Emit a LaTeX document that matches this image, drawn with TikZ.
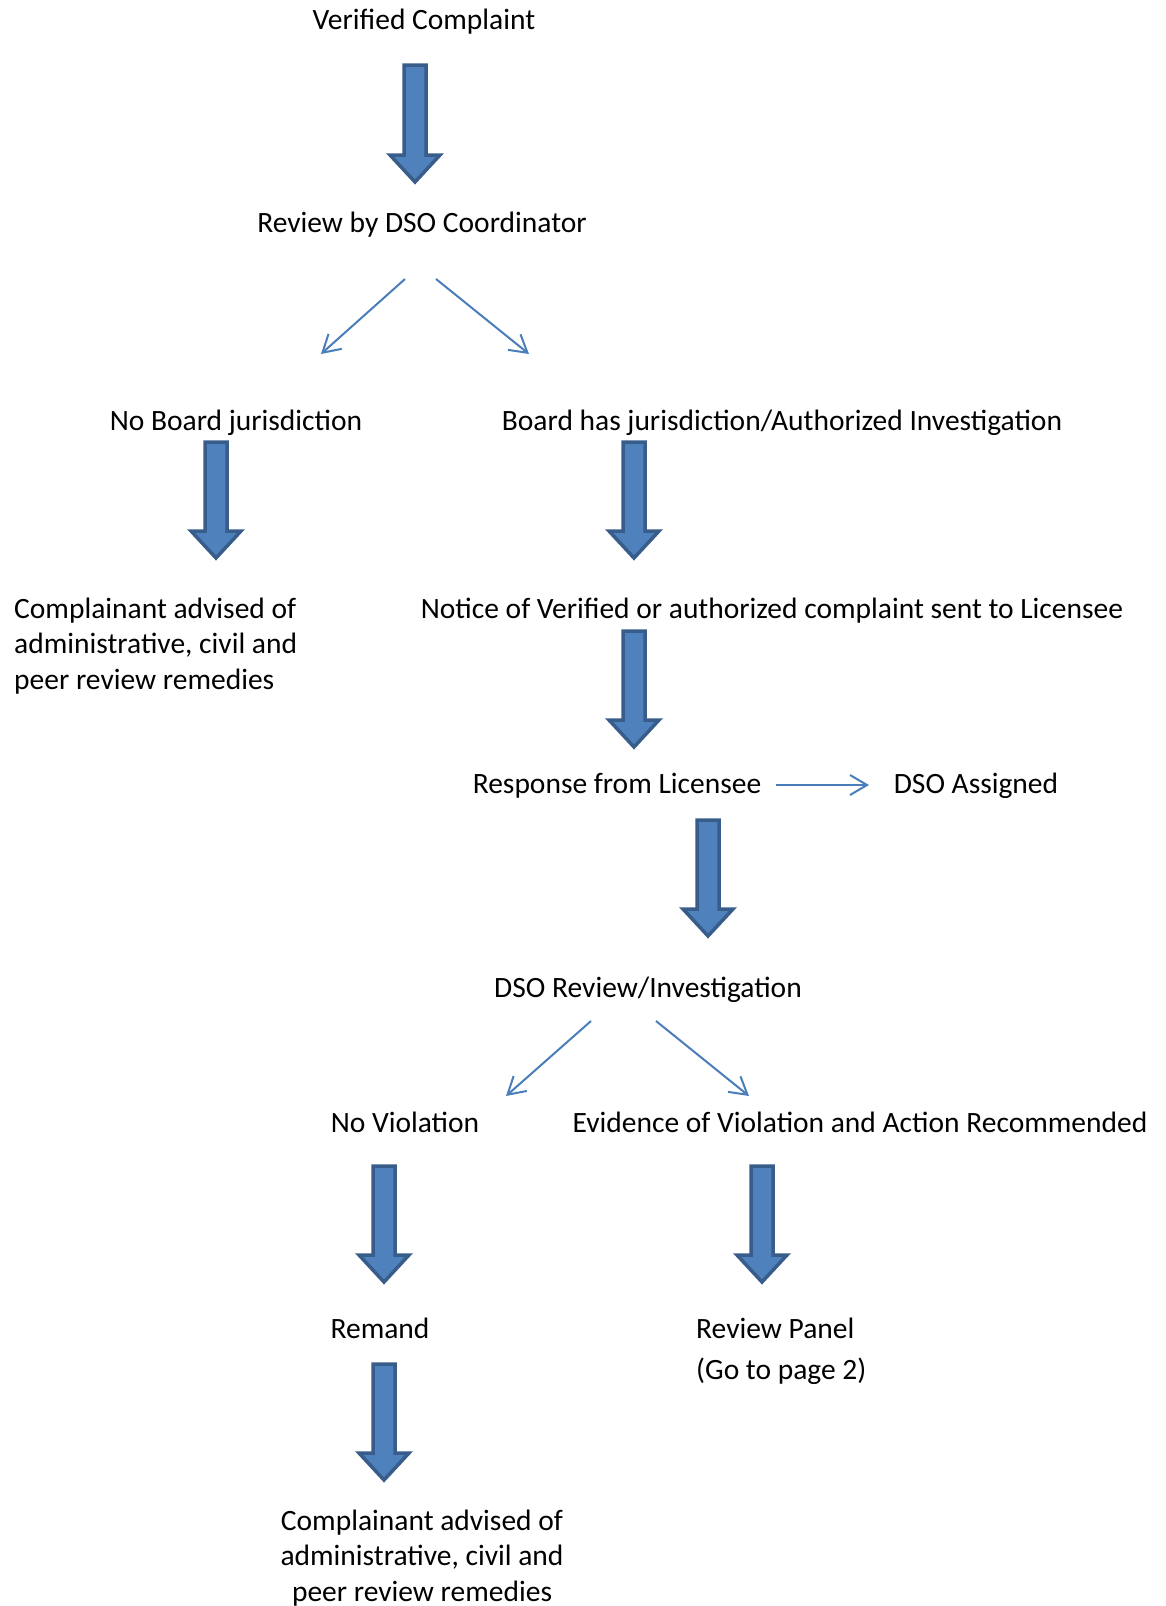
\documentclass[tikz,border=0pt]{standalone}
\usepackage{fontspec}
\setmainfont{Carlito}
\usepackage{tikz}
\usetikzlibrary{arrows.meta,%
		calc,%
		positioning}

\definecolor{fatfill}{HTML}{4F81BD}
\definecolor{fatline}{HTML}{385D8A}
\definecolor{thinline}{HTML}{4A7EBB}

\tikzset{
  txt/.style={inner sep=0pt,anchor=base},
  txtl/.style={inner sep=0pt,anchor=base west,align=left},
  txtc/.style={inner sep=0pt,anchor=base,align=center},
  fatarrow/.style={fill=fatfill,draw=fatline,line width=3.5pt,line join=miter},
  thinarrow/.style={draw=thinline,line width=2pt,-{Straight Barb[length=17pt,width=20pt,line width=2pt]}}
}

% freccia larga: #1 = punto in alto, #2 = punta
\newcommand{\fatarrow}[2]{%
  \draw[fatarrow] ($(#1)+(-11,0)$) -- ($(#1)+(11,0)$) -- ($(#2)+(11,-27)$)
    -- ($(#2)+(25,-27)$) -- (#2) -- ($(#2)+(-25,-27)$) -- ($(#2)+(-11,-27)$) -- cycle;}

\begin{document}
\begin{tikzpicture}[x=1pt,y=-1pt,font=\fontsize{29.5}{35.5}\selectfont]

  \useasboundingbox (0,0) rectangle (1166,1606);

  % i testi (per quelli su piu' righe: base = ultima riga)
  \node[txt] (vc) at (424,29) {Verified Complaint};
  \node[txt] (rev) at (422,232) {Review by DSO Coordinator};
  \node[txt] (nobj) at (236,430) {No Board jurisdiction};
  \node[txt] (bhj) at (782,430) {Board has jurisdiction/Authorized Investigation};
  \node[txtl] (adv1) at (14,689) {Complainant advised of\\administrative, civil and\\peer review remedies};
  \node[txt] (notice) at (772,618) {Notice of Verified or authorized complaint sent to Licensee};
  \node[txt] (resp) at (617,793) {Response from Licensee};
  \node[txt] (assg) at (976,793) {DSO Assigned};
  \node[txt] (inv) at (648,997) {DSO Review/Investigation};
  \node[txt] (nov) at (405,1132) {No Violation};
  \node[txt] (evid) at (860,1132) {Evidence of Violation and Action Recommended};
  \node[txt] (rem) at (380,1338) {Remand};
  \node[txtl] (panel) at (696,1379) {Review Panel\\[5pt](Go to page 2)};
  \node[txtc] (adv2) at (422,1601) {Complainant advised of\\administrative, civil and\\peer review remedies};

  % le frecce larghe
  \coordinate (f1a) at (415,65);   \coordinate (f1b) at (415,182);
  \coordinate (f2a) at (216,442);  \coordinate (f2b) at (216,558);
  \coordinate (f3a) at (634,442);  \coordinate (f3b) at (634,558);
  \coordinate (f4a) at (634,631);  \coordinate (f4b) at (634,747);
  \coordinate (f5a) at (708,820);  \coordinate (f5b) at (708,936);
  \coordinate (f6a) at (384,1166); \coordinate (f6b) at (384,1282);
  \coordinate (f7a) at (762,1166); \coordinate (f7b) at (762,1282);
  \coordinate (f8a) at (384,1364); \coordinate (f8b) at (384,1480);
  \fatarrow{f1a}{f1b}
  \fatarrow{f2a}{f2b}
  \fatarrow{f3a}{f3b}
  \fatarrow{f4a}{f4b}
  \fatarrow{f5a}{f5b}
  \fatarrow{f6a}{f6b}
  \fatarrow{f7a}{f7b}
  \fatarrow{f8a}{f8b}

  % le frecce sottili
  \coordinate (s1a) at (405,279);  \coordinate (s1b) at (321,354);
  \coordinate (s2a) at (436,279);  \coordinate (s2b) at (529,354);
  \coordinate (s3a) at (776,785);  \coordinate (s3b) at (869,785);
  \coordinate (s4a) at (591,1021); \coordinate (s4b) at (506,1096);
  \coordinate (s5a) at (656,1021); \coordinate (s5b) at (749,1096);
  \draw[thinarrow] (s1a) -- (s1b);
  \draw[thinarrow] (s2a) -- (s2b);
  \draw[thinarrow] (s3a) -- (s3b);
  \draw[thinarrow] (s4a) -- (s4b);
  \draw[thinarrow] (s5a) -- (s5b);
\end{tikzpicture}
\end{document}
